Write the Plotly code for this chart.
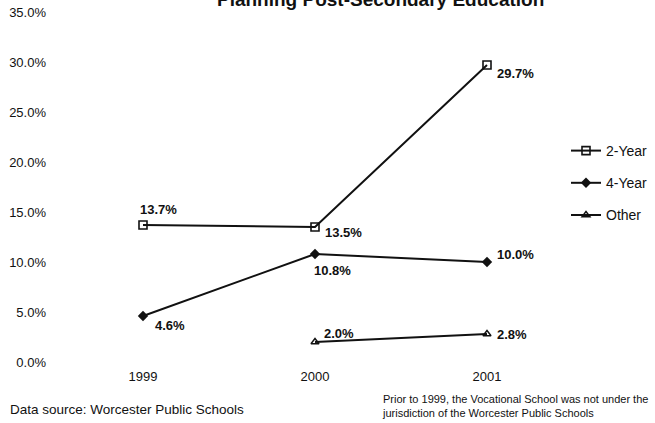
import plotly.graph_objects as go

# Students planning post-secondary education, by type of school
years = ["1999", "2000", "2001"]
two_year = [13.7, 13.5, 29.7]
four_year = [4.6, 10.8, 10.0]
other = [None, 2.0, 2.8]

y_ticks = [0, 5, 10, 15, 20, 25, 30, 35]

FONT = "Arial, 'Liberation Sans', sans-serif"
INK = "#111111"

xpos = list(range(len(years)))

# Plot area spans 57..573 px horizontally and 12..362 px vertically
L, R, T, B = 57, 573, 12, 362


def px_x(px):
    return (px - L) / (R - L)


def px_y(px):
    return (B - px) / (B - T)


fig = go.Figure()

series = [
    ("2-Year", two_year, dict(symbol="square-open", size=8, color=INK, line=dict(width=1.6, color=INK))),
    ("4-Year", four_year, dict(symbol="diamond", size=8, color=INK)),
    ("Other", other, dict(symbol="triangle-up-open", size=7, color=INK, line=dict(width=1.4, color=INK))),
]

for name, vals, marker in series:
    fig.add_trace(go.Scatter(
        x=xpos, y=vals, name=name, mode="lines+markers",
        line=dict(color=INK, width=2),
        marker=marker,
        legendgroup=name, connectgaps=False,
    ))

# Data label placement (pixel offsets from each point)
label_offsets = {
    "2-Year": [(-5, 16), (8, -5), (8, -8)],
    "4-Year": [(10, -9), (-3, -16), (8, 8)],
    "Other": [(0, 0), (7, 9), (8, 0)],
}

for name, vals, _ in series:
    for xi, v in zip(xpos, vals):
        if v is None:
            continue
        dx, dy = label_offsets[name][xi]
        fig.add_annotation(
            x=xi, y=v, xref="x", yref="y", text=f"{v:.1f}%",
            showarrow=False, xanchor="left", yanchor="middle",
            xshift=dx, yshift=dy,
            font=dict(family=FONT, size=13, color=INK, weight="bold"),
        )

# Chart title (sits at the very top edge)
fig.add_annotation(
    x=px_x(380), y=px_y(12.5), xref="paper", yref="paper",
    text="Planning Post-Secondary Education",
    showarrow=False, xanchor="center", yanchor="bottom",
    font=dict(family=FONT, size=19, color=INK, weight="bold"),
)

fig.add_annotation(
    x=px_x(8), y=px_y(409), xref="paper", yref="paper",
    text="Data source: Worcester Public Schools",
    showarrow=False, xanchor="left", yanchor="middle",
    font=dict(family=FONT, size=13.5, color=INK),
)

fig.add_annotation(
    x=px_x(380), y=px_y(406), xref="paper", yref="paper",
    text="Prior to 1999, the Vocational School was not under the<br>jurisdiction of the Worcester Public Schools",
    showarrow=False, xanchor="left", yanchor="middle", align="left",
    font=dict(family=FONT, size=11, color=INK),
)

fig.update_layout(
    width=655, height=423,
    margin=dict(l=L, r=655 - R, t=T, b=423 - B, autoexpand=False),
    paper_bgcolor="white", plot_bgcolor="white",
    font=dict(family=FONT, size=13, color=INK),
    showlegend=True,
    legend=dict(
        x=px_x(566), y=px_y(135), xanchor="left", yanchor="top",
        font=dict(family=FONT, size=14, color=INK),
        bgcolor="rgba(0,0,0,0)", tracegroupgap=11, itemwidth=30,
    ),
    xaxis=dict(
        range=[-0.5, 2.5], tickvals=xpos, ticktext=years,
        showgrid=False, zeroline=False, showline=False, ticks="",
        ticklabelstandoff=5, tickfont=dict(family=FONT, size=13, color=INK),
    ),
    yaxis=dict(
        range=[0, 35], tickvals=y_ticks, ticktext=[f"{t:.1f}%" for t in y_ticks],
        showgrid=False, zeroline=False, showline=False, ticks="",
        ticklabelstandoff=10, tickfont=dict(family=FONT, size=13, color=INK),
    ),
)

fig.write_html("out.html")
